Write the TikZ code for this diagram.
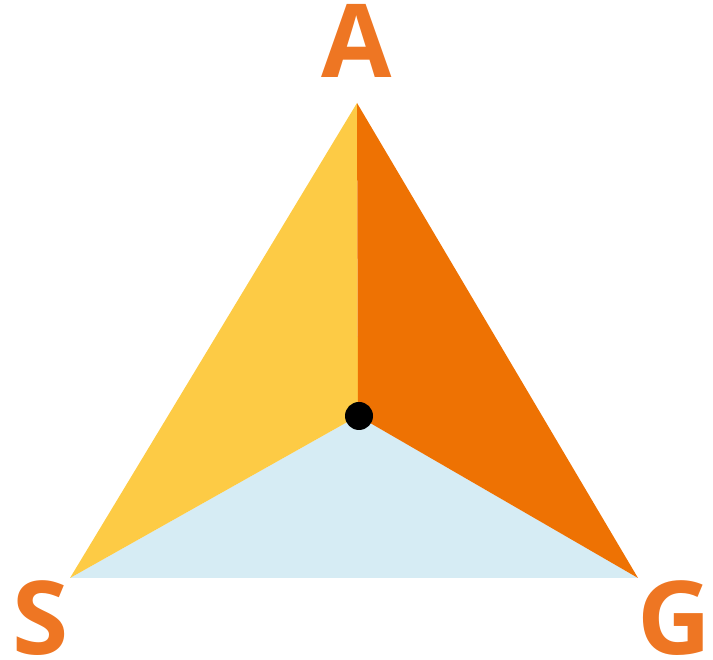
\documentclass[tikz,border=0pt]{standalone}
\usepackage{fontspec}
\setmainfont{Open Sans}
\definecolor{lbl}{HTML}{EE7623}
\definecolor{rightc}{HTML}{EE7203}
\definecolor{leftc}{HTML}{FDCB45}
\definecolor{botc}{HTML}{D6ECF4}
\begin{document}
\begin{tikzpicture}[x=1pt,y=1pt,
  vlabel/.style={text=lbl,font=\fontsize{102}{102}\selectfont\bfseries,inner sep=0pt,anchor=base}]
\useasboundingbox (0,0) rectangle (713,660);
\coordinate (A) at (357,557);
\coordinate (S) at (70,82);
\coordinate (G) at (638,82);
\coordinate (O) at (358,244);
\fill[botc] (S) -- (O) -- (G) -- cycle;
\fill[leftc] (A) -- (O) -- (S) -- cycle;
\fill[rightc] (A) -- (G) -- (O) -- cycle;
\fill[black] (359,244) circle (14);
\node[vlabel] (la) at (357,582) {A};
\node[vlabel] (ls) at (41,5) {S};
\node[vlabel] (lg) at (674,5) {G};
\end{tikzpicture}
\end{document}
